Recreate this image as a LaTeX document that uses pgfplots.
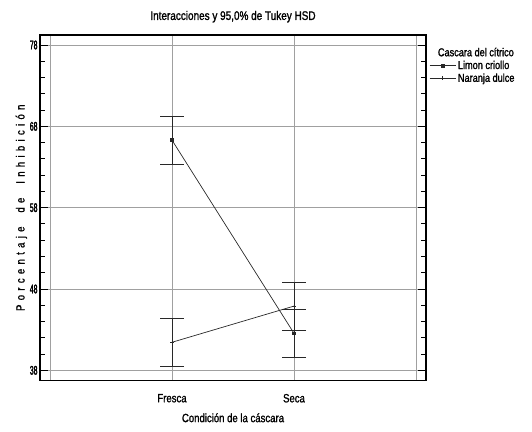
\documentclass[border=0pt]{standalone}
\usepackage{fontspec}
\setmainfont{Liberation Sans}[FakeStretch=0.8, FakeBold=1.4]
\newfontfamily\mytickfont{Liberation Sans}[FakeStretch=0.55, FakeBold=2]
\newfontfamily\myylabfont{Liberation Sans}[FakeStretch=0.8, FakeBold=1.2, LetterSpace=36]
\usepackage{pgfplots}
\pgfplotsset{compat=1.18}
\definecolor{gridgray}{RGB}{160,160,160}
\definecolor{linegray}{RGB}{40,40,40}
\begin{document}
\begin{tikzpicture}
\begin{axis}[
  width=386bp, height=345.5bp, scale only axis,
  xmin=-0.082, xmax=3.082, ymin=36.75, ymax=79.23,
  xtick={0,1,2,3}, xticklabels={,Fresca,Seca,},
  major x tick style={draw=none},
  ytick={38,48,58,68,78},
  minor y tick num=4,
  xmajorgrids, ymajorgrids,
  grid style={gridgray, line width=1pt},
  axis line style={black, line width=1.1pt},
  tick style={black, line width=0.9pt},
  major tick length=8bp, minor tick length=5bp,
  tick align=inside,
  ytick pos=both,
  /pgf/number format/assume math mode=true,
  font=\fontsize{11.5}{13}\selectfont,
  yticklabel style={font=\fontsize{12.5}{13}\mytickfont, xshift=1bp},
  xticklabel style={font=\fontsize{12}{13}\selectfont, yshift=-10bp},
  title={Interacciones y 95,0\% de Tukey HSD},
  title style={font=\fontsize{12.5}{13}\selectfont, yshift=3bp},
  xlabel={Condición de la cáscara},
  ylabel={\myylabfont Porcentaje\ \ de\ \ Inhibición},
  xlabel style={font=\fontsize{12}{13}\selectfont, yshift=-4bp},
  ylabel style={font=\fontsize{12}{13}\selectfont, yshift=-4bp},
  legend style={at={(1.005,0.975)}, anchor=north west, draw=none, fill=none,
    font=\fontsize{11.5}{13}\selectfont, row sep=-1pt, inner xsep=1pt,
    /tikz/every even column/.append style={column sep=2pt}},
  legend image code/.code={%
    \draw[mark repeat=2,mark phase=2] plot coordinates {(0bp,0bp) (13bp,0bp) (26bp,0bp)};},
  legend image post style={line width=0.8pt},
  legend cell align=left,
  error bars/y dir=both, error bars/y explicit,
  error bars/error bar style={linegray, line width=0.9pt},
  error bars/error mark options={rotate=90, mark size=12bp, linegray, line width=0.9pt},
]
\addlegendimage{empty legend}
\addlegendentry{\hspace{-20bp}Cascara del cítrico}
\addplot[linegray, line width=0.7pt, mark=square*, mark size=1.4pt] coordinates {
  (1,66.3) +- (0,2.95)
  (2,42.55) +- (0,2.95)
};
\addlegendentry{Limon criollo}
\addplot[linegray, line width=0.7pt, mark=+, mark size=2pt] coordinates {
  (1,41.45) +- (0,2.95)
  (2,45.9) +- (0,2.95)
};
\addlegendentry{Naranja dulce}
\end{axis}
\pgfresetboundingbox
\path[use as bounding box] (-40bp,-51.5bp) rectangle (492bp,380.5bp);
\end{tikzpicture}
\end{document}
